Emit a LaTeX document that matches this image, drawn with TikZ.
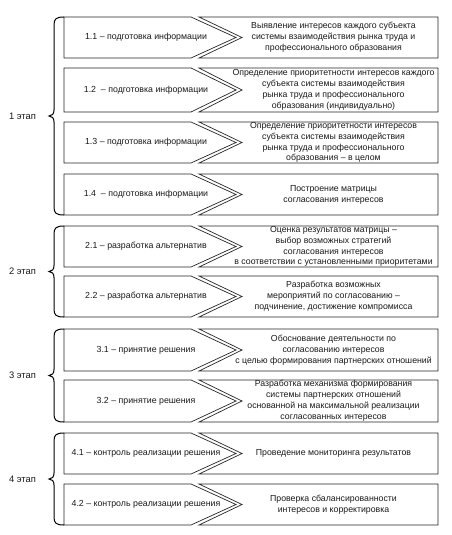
\documentclass[tikz,border=0pt]{standalone}
\usepackage{fontspec}
\setmainfont{Liberation Sans}
\tikzset{
  boxline/.style={draw=black!85, line width=0.7pt, line join=miter},
  braceline/.style={draw=black, line width=1pt},
  lefttext/.style={align=center, inner sep=0pt, text=black!90, font=\fontsize{8.8}{10.8}\selectfont},
  righttext/.style={align=center, inner sep=0pt, text=black!90, font=\fontsize{8.75}{10.9}\selectfont},
  stagetext/.style={inner sep=0pt, text=black!90, font=\fontsize{9.4}{11}\selectfont}
}
\newcommand\stagerow[5]{%
  \pgfmathsetmacro\rowmid{(#2+#3)/2}
  \draw[boxline] (64,#2) -- (191,#2) -- (236,\rowmid) -- (191,#3) -- (64,#3) -- cycle;
  \draw[boxline] (199,#2) -- (438,#2) -- (438,#3) -- (199,#3) -- (242,\rowmid) -- cycle;
  \node[lefttext] (#1l) at (146,\rowmid) {#4};
  \node[righttext] (#1r) at (333.5,\rowmid) {#5};
}
\newcommand\stagebrace[4]{%
  \pgfmathsetmacro\bmid{(#2+#3)/2}
  \draw[braceline] (64,#2) .. controls (56,#2) and (54,#2+2) .. (54,#2+8)
     -- (54,\bmid-6) .. controls (54,\bmid-2) and (52,\bmid) .. (49,\bmid)
     .. controls (52,\bmid) and (54,\bmid+2) .. (54,\bmid+6)
     -- (54,#3-8) .. controls (54,#3-2) and (56,#3) .. (64,#3);
  \node[stagetext] (#1) at (22.5,\bmid) {#4};
}
\begin{document}
\begin{tikzpicture}[x=1pt,y=-1pt]
\useasboundingbox (0,0) rectangle (451,535);
\stagerow{r11}{17}{58}{1.1 – подготовка информации}{Выявление интересов каждого субъекта\\системы взаимодействия рынка труда и\\профессионального образования}
\stagerow{r12}{68}{112}{1.2\ \ – подготовка информации}{Определение приоритетности интересов каждого\\субъекта системы взаимодействия\\рынка труда и профессионального\\образования (индивидуально)}
\stagerow{r13}{122}{163}{1.3 – подготовка информации}{Определение приоритетности интересов\\субъекта системы взаимодействия\\рынка труда и профессионального\\образования – в целом}
\stagerow{r14}{174}{215}{1.4\ \ – подготовка информации}{Построение матрицы\\согласования интересов}
\stagerow{r21}{226}{267}{2.1 – разработка альтернатив}{Оценка результатов матрицы –\\выбор возможных стратегий\\согласования интересов\\в соответствии с установленными приоритетами}
\stagerow{r22}{276}{317}{2.2 – разработка альтернатив}{Разработка возможных\\мероприятий по согласованию –\\подчинение, достижение компромисса}
\stagerow{r31}{329}{371}{3.1 – принятие решения}{Обоснование деятельности по\\согласованию интересов\\с целью формирования партнерских отношений}
\stagerow{r32}{380}{422}{3.2 – принятие решения}{Разработка механизма формирования\\системы партнерских отношений\\основанной на максимальной реализации\\согласованных интересов}
\stagerow{r41}{433}{474}{4.1 – контроль реализации решения}{Проведение мониторинга результатов}
\stagerow{r42}{484}{525}{4.2 – контроль реализации решения}{Проверка сбалансированности\\интересов и корректировка}
\stagebrace{s1}{17}{215}{1 этап}
\stagebrace{s2}{226}{317}{2 этап}
\stagebrace{s3}{329}{422}{3 этап}
\stagebrace{s4}{433}{525}{4 этап}
\end{tikzpicture}
\end{document}
